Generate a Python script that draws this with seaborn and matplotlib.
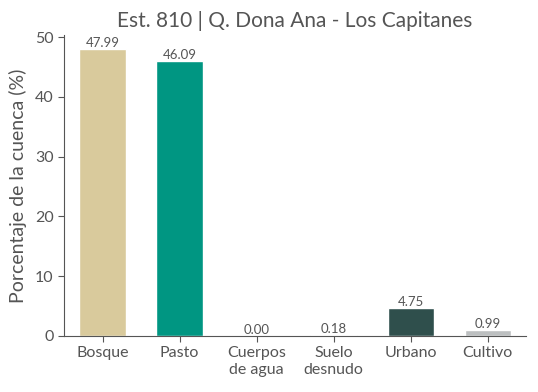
import matplotlib
matplotlib.use('Agg')
import matplotlib.pyplot as plt
import seaborn as sns
import pandas as pd

# data
categorias = ['Bosque', 'Pasto', 'Cuerpos\nde agua', 'Suelo\ndesnudo', 'Urbano', 'Cultivo']
porcentajes = [47.99, 46.09, 0.00, 0.18, 4.75, 0.99]
colores = ['#d9ca9c', '#009682', '#2b7bb9', '#1c3328', '#2f4f4c', '#bcbfc0']

df = pd.DataFrame({'cobertura': categorias, 'pct': porcentajes})

sns.set_style('ticks')
plt.rcParams['font.family'] = ['Lato', 'DejaVu Sans']
gris = '#555555'

fig, ax = plt.subplots(figsize=(5.38, 3.92), dpi=100)
fig.subplots_adjust(left=0.119, right=0.978, bottom=0.143, top=0.911)

sns.barplot(data=df, x='cobertura', y='pct', hue='cobertura', palette=colores,
            width=0.6, legend=False, ax=ax, saturation=1)

for i, v in enumerate(porcentajes):
    ax.text(i, v, f'{v:.2f}', ha='center', va='bottom', fontsize=9.5, color=gris)

ax.set_title('Est. 810 | Q. Dona Ana - Los Capitanes', fontsize=15, color=gris, pad=6)
ax.set_ylabel('Porcentaje de la cuenca (%)', fontsize=14, color=gris, labelpad=6)
ax.set_xlabel('')
ax.set_ylim(0, 50.39)
ax.set_yticks([0, 10, 20, 30, 40, 50])
ax.tick_params(colors=gris, labelsize=11.5, length=4)
for s in ['left', 'bottom']:
    ax.spines[s].set_color(gris)
sns.despine(ax=ax)

plt.savefig('out.png', dpi=100)
